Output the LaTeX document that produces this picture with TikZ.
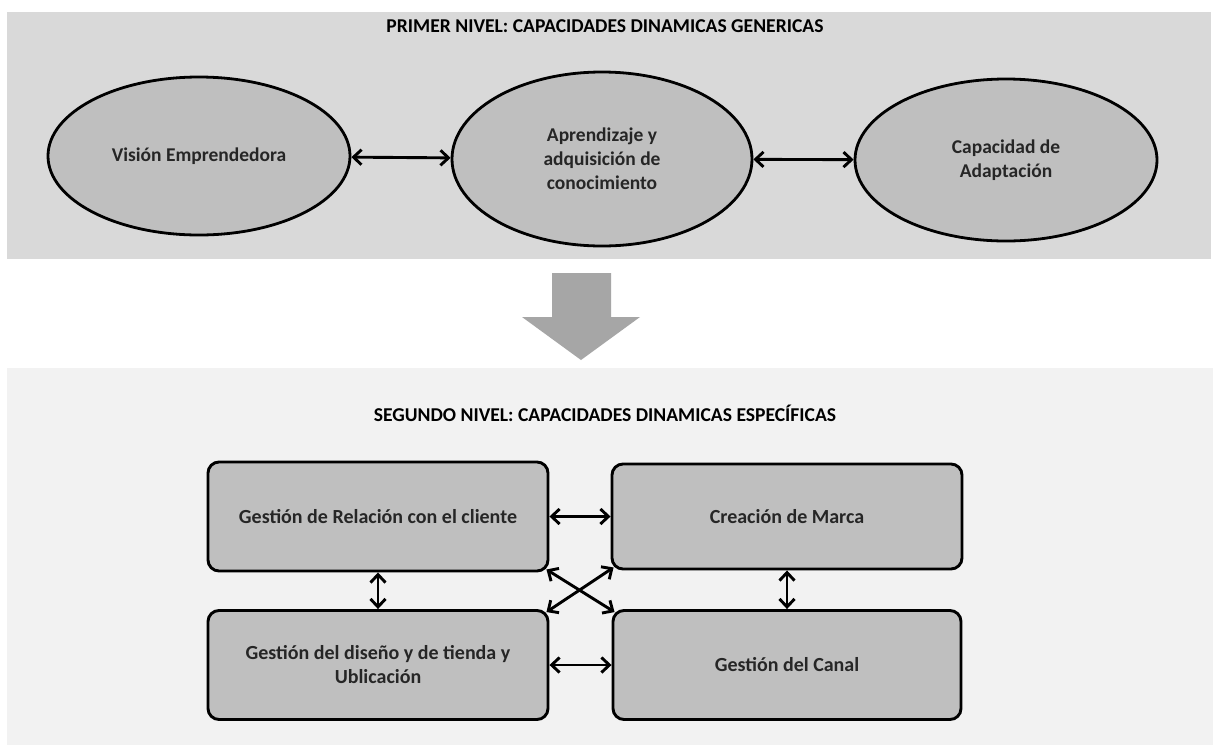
\documentclass[tikz,border=0pt]{standalone}
\usepackage{fontspec}
\setmainfont{Carlito}
\usetikzlibrary{shapes.geometric,arrows.meta}
\definecolor{panelA}{HTML}{D9D9D9}
\definecolor{panelB}{HTML}{F2F2F2}
\definecolor{nodefill}{HTML}{BFBFBF}
\definecolor{blockarrow}{HTML}{A6A6A6}
\definecolor{ink}{HTML}{262626}
\begin{document}
\begin{tikzpicture}[x=1pt,y=-1pt,
  oval/.style={ellipse, draw=black, line width=2.8pt, fill=nodefill, inner sep=0pt,
    align=center, text=ink, font=\fontsize{19.5}{24}\selectfont\bfseries},
  boxnode/.style={rectangle, rounded corners=11pt, draw=black, line width=2.9pt,
    fill=nodefill, inner sep=0pt, align=center, text=ink,
    font=\fontsize{20}{24}\selectfont\bfseries},
  link/.style={line width=2.9pt,
    {Straight Barb[length=8pt,width=15pt]}-{Straight Barb[length=8pt,width=15pt]}},
  leveltitle/.style={font=\fontsize{19.6}{23}\selectfont\bfseries, text=black, inner sep=0pt}
]
\useasboundingbox (0,0) rectangle (1218,745);
\fill[white] (0,0) rectangle (1218,745);

% background panels of the two levels
\fill[panelA] (7,12) rectangle (1211,259);
\fill[panelB] (7,368) rectangle (1213,745);

% first level
\node[leveltitle] (t1) at (605,26) {PRIMER NIVEL: CAPACIDADES DINAMICAS GENERICAS};
\node[oval, minimum width=302pt, minimum height=158pt] (e1) at (199,156) {Visión Emprendedora};
\node[oval, minimum width=300pt, minimum height=174pt] (e2) at (602,159) {Aprendizaje y\\adquisición de\\conocimiento};
\node[oval, minimum width=302pt, minimum height=162pt] (e3) at (1006,160) {Capacidad de\\Adaptación};
\draw[link] (e1) -- (e2);
\draw[link] (e2) -- (e3);

% block arrow between the levels
\fill[blockarrow] (552,273) -- (611,273) -- (611,317) -- (640,317) -- (581,360)
  -- (522,317) -- (552,317) -- cycle;

% second level
\node[leveltitle] (t2) at (605,413) {SEGUNDO NIVEL: CAPACIDADES DINAMICAS ESPECÍFICAS};
\node[boxnode, minimum width=340pt, minimum height=109pt] (b1) at (378,516.5) {Gestión de Relación con el cliente};
\node[boxnode, minimum width=350pt, minimum height=105pt] (b2) at (787,516.5) {Creación de Marca};
\node[boxnode, minimum width=340pt, minimum height=109pt] (b3) at (378,665) {Gestión del diseño y de tienda y\\Ublicación};
\node[boxnode, minimum width=348pt, minimum height=109pt] (b4) at (787,665) {Gestión del Canal};

\coordinate (c1) at ([shift={(-3,-3)}]b1.south east);
\coordinate (c2) at ([shift={(3,-3)}]b2.south west);
\coordinate (c3) at ([shift={(-3,3)}]b3.north east);
\coordinate (c4) at ([shift={(3,3)}]b4.north west);

\draw[link] (b1) -- (b2);
\draw[link] (b3) -- (b4);
\draw[link] (b1) -- (b3);
\draw[link] (b2) -- (b4);
\draw[link] (c1) -- (c4);
\draw[link] (c2) -- (c3);
\end{tikzpicture}
\end{document}
